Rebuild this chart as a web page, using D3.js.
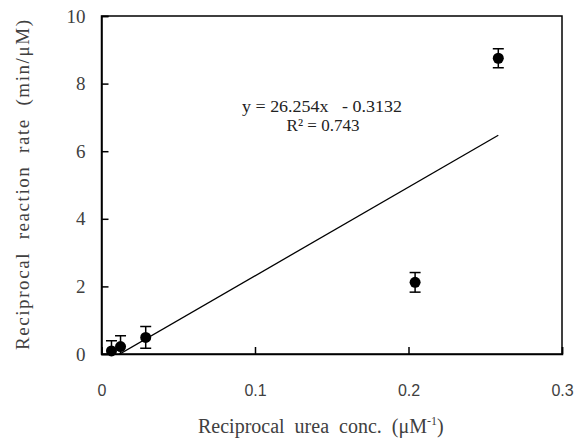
<!DOCTYPE html>
<html><head><meta charset="utf-8">
<script src="https://cdn.jsdelivr.net/npm/d3@7"></script>
<style>body{margin:0;background:#fff} .serif{font-family:"Liberation Serif","Times New Roman",serif;} .sans{font-family:"Liberation Sans",Arial,sans-serif;} text{white-space:pre}</style>
</head><body>
<script>
const xValues = [0.0065, 0.0124, 0.0288, 0.2043, 0.2585];
const yValues = [0.09, 0.22, 0.49, 2.12, 8.75];
const yErrors = [0.30, 0.32, 0.32, 0.29, 0.28];
const slope = 26.254, intercept = -0.3132, r2 = 0.743;
const xTicks = [0, 0.1, 0.2, 0.3];
const yTicks = [0, 2, 4, 6, 8, 10];

const W = 575, H = 443;
const m = {l: 101.5, r: 13, t: 16, b: 89};
const svg = d3.select("body").append("svg").attr("width", W).attr("height", H);
const x = d3.scaleLinear().domain([0, 0.3]).range([m.l, W - m.r]);
const y = d3.scaleLinear().domain([0, 10]).range([H - m.b, m.t]);
const grey = "#404040";

svg.append("defs").append("clipPath").attr("id", "clip")
  .append("rect").attr("x", m.l).attr("y", m.t)
  .attr("width", W - m.r - m.l).attr("height", H - m.b - m.t);

svg.append("rect").attr("x", m.l).attr("y", m.t)
  .attr("width", W - m.r - m.l).attr("height", H - m.b - m.t)
  .attr("fill", "none").attr("stroke", "#000").attr("stroke-width", 1.5);

const gx = svg.append("g").attr("transform", `translate(0,${H - m.b})`)
  .call(d3.axisBottom(x).tickValues(xTicks).tickSize(-7).tickPadding(31)
    .tickFormat(d => d === 0 ? "0" : d3.format(".1f")(d)));
gx.attr("font-family", null);
gx.select(".domain").attr("stroke", "#000").attr("stroke-width", 1.5);
gx.selectAll(".tick line").attr("stroke", "#000").attr("stroke-width", 1.5);
gx.selectAll(".tick text").attr("class", "sans").attr("font-size", 16).attr("fill", grey);

const gy = svg.append("g").attr("transform", `translate(${m.l},0)`)
  .call(d3.axisLeft(y).tickValues(yTicks).tickSize(-7).tickPadding(16));
gy.attr("font-family", null);
gy.select(".domain").attr("stroke", "#000").attr("stroke-width", 1.5);
gy.selectAll(".tick line").attr("stroke", "#000").attr("stroke-width", 1.5);
gy.selectAll(".tick text").attr("class", "serif").attr("font-size", 19).attr("fill", grey);

const x0 = d3.min(xValues), x1 = d3.max(xValues);
svg.append("line").attr("clip-path", "url(#clip)")
  .attr("x1", x(x0)).attr("y1", y(slope * x0 + intercept))
  .attr("x2", x(x1)).attr("y2", y(slope * x1 + intercept))
  .attr("stroke", "#000").attr("stroke-width", 1.3);

const pts = xValues.map((v, i) => ({x: v, y: yValues[i], e: yErrors[i]}));
const eg = svg.append("g").attr("clip-path", "url(#clip)");
eg.selectAll("line.v").data(pts).join("line")
  .attr("x1", d => x(d.x)).attr("x2", d => x(d.x))
  .attr("y1", d => y(d.y - d.e)).attr("y2", d => y(d.y + d.e))
  .attr("stroke", "#000").attr("stroke-width", 1.5);
[-1, 1].forEach(s => {
  eg.selectAll("line.c" + (s + 1)).data(pts).join("line").attr("class", "c" + (s + 1))
    .attr("x1", d => x(d.x) - 5.5).attr("x2", d => x(d.x) + 5.5)
    .attr("y1", d => y(d.y + s * d.e)).attr("y2", d => y(d.y + s * d.e))
    .attr("stroke", "#000").attr("stroke-width", 1.5);
});
svg.selectAll("circle").data(pts).join("circle")
  .attr("cx", d => x(d.x)).attr("cy", d => y(d.y)).attr("r", 5.5).attr("fill", "#000");

svg.append("text").attr("class", "serif").attr("x", 322).attr("y", 112).attr("text-anchor", "middle")
  .attr("font-size", 17).attr("fill", "#222")
  .attr("textLength", 160).attr("lengthAdjust", "spacingAndGlyphs")
  .text(`y = ${slope}x   - ${Math.abs(intercept)}`);
svg.append("text").attr("class", "serif").attr("x", 323).attr("y", 131).attr("text-anchor", "middle")
  .attr("font-size", 17).attr("fill", "#222")
  .text(`R² = ${r2}`);

svg.append("text").attr("class", "serif").attr("transform", `translate(29,185) rotate(-90)`)
  .attr("text-anchor", "middle").attr("font-size", 19).attr("fill", grey)
  .attr("textLength", 330).attr("lengthAdjust", "spacing")
  .text("Reciprocal  reaction  rate  (min/μM)");
const xl = svg.append("text").attr("class", "serif").attr("x", 198).attr("y", 433)
  .attr("font-size", 20).attr("fill", grey);
xl.append("tspan").text("Reciprocal  urea  conc.  (μM");
xl.append("tspan").attr("font-size", 12).attr("dy", -8).text("-1");
xl.append("tspan").attr("dy", 8).text(")");
</script>
</body></html>
